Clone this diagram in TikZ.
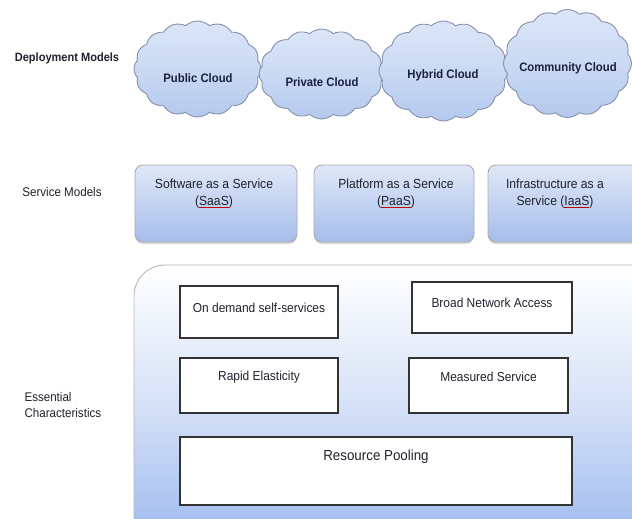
\documentclass[tikz,border=0pt]{standalone}
\usepackage{fontspec}
\setmainfont{Liberation Sans}[FakeStretch=0.92]
\usetikzlibrary{shapes.symbols,shadows}
\definecolor{cloudfill}{HTML}{B4C9EE}
\definecolor{cloudtop}{HTML}{DCE6F8}
\definecolor{cloudline}{HTML}{8592AA}
\definecolor{svtop}{HTML}{DFE8F8}
\definecolor{svbot}{HTML}{A6BDEA}
\definecolor{contbot}{HTML}{A5BEF0}
\definecolor{txt}{HTML}{20232E}
\definecolor{ctxt}{HTML}{1A2140}
\newcommand\squig[1]{\setbox0\hbox{#1}\rlap{\textcolor{red!75!black}{\rule[-2.2pt]{\wd0}{0.7pt}}}\box0}
\begin{document}
\begin{tikzpicture}[x=1pt,y=-1pt,
  lbl/.style={font=\fontsize{12.6}{16}\selectfont, text=txt},
  cloudnode/.style={cloud, cloud puffs=16, cloud puff arc=85, draw=cloudline, line width=0.9pt,
     top color=cloudtop, bottom color=cloudfill, middle color=cloudtop!55!cloudfill,
     inner sep=0pt},
  cloudtext/.style={font=\fontsize{12.3}{14}\selectfont\bfseries, text=ctxt},
  svc/.style={draw=gray!65, line width=0.9pt, rounded corners=8pt, top color=svtop, bottom color=svbot,
     inner sep=0pt, drop shadow={shadow xshift=0pt, shadow yshift=-2pt, opacity=0.3}},
  svctext/.style={font=\fontsize{13.2}{17}\selectfont, text=txt, align=center},
  charbox/.style={draw=black!80, line width=1.4pt, fill=white, inner sep=0pt},
  chartext/.style={font=\fontsize{13}{15}\selectfont, text=txt}
]
\useasboundingbox (0,0) rectangle (632,519);
\fill[white] (0,0) rectangle (632,519);

% left labels
\node[lbl, font=\fontsize{12}{14}\selectfont\bfseries] (ldep) at (67,58) {Deployment Models};
\node[lbl] (lsvc) at (62,192) {Service Models};
\node[lbl, align=left, anchor=west] (less) at (21,405) {Essential\\Characteristics};

% clouds
\node[cloudnode, minimum width=127pt, minimum height=96pt] (pub) at (197.5,69) {};
\node[cloudnode, minimum width=125pt, minimum height=90pt] (pri) at (321.5,74) {};
\node[cloudnode, minimum width=129pt, minimum height=100pt] (hyb) at (443.5,71) {};
\node[cloudnode, minimum width=128pt, minimum height=108pt] (com) at (567.5,63.5) {};
\node[cloudtext] (tpub) at (198,78) {Public Cloud};
\node[cloudtext] (tpri) at (322,82) {Private Cloud};
\node[cloudtext] (thyb) at (443,75) {Hybrid Cloud};
\node[cloudtext] (tcom) at (568,68) {Community Cloud};

% service boxes
\node[svc, minimum width=162pt, minimum height=77pt] (saas) at (216,203.5) {};
\node[svc, minimum width=160pt, minimum height=77pt] (paas) at (394,203.5) {};
\node[svc, minimum width=160pt, minimum height=77pt] (iaas) at (568,203.5) {};
\node[svctext] (tsaas) at (214,193.5) {Software as a Service\\(\squig{SaaS})};
\node[svctext] (tpaas) at (396,193.5) {Platform as a Service\\(\squig{PaaS})};
\node[svctext] (tiaas) at (555,193.5) {Infrastructure as a\\Service (\squig{IaaS})};

% essential characteristics container
\path[draw=gray!55, line width=0.9pt, top color=white, bottom color=contbot, middle color=svtop!90!contbot]
  (640,265) -- (165,265) arc[start angle=90, end angle=180, radius=31pt] -- (134,525) -- (640,525);
\coordinate (cont) at (380,390);

% inner boxes
\node[charbox, minimum width=158pt, minimum height=52pt] (ond) at (259,312) {};
\node[charbox, minimum width=160pt, minimum height=51pt] (bna) at (492,307.5) {};
\node[charbox, minimum width=158pt, minimum height=55pt] (rap) at (259,385.5) {};
\node[charbox, minimum width=159pt, minimum height=55pt] (mea) at (488.5,385.5) {};
\node[charbox, minimum width=392pt, minimum height=68pt] (rpo) at (376,471) {};
\node[chartext] (tond) at (259,308) {On demand self-services};
\node[chartext] (tbna) at (492,303) {Broad Network Access};
\node[chartext] (trap) at (259,377) {Rapid Elasticity};
\node[chartext] (tmea) at (488.5,377) {Measured Service};
\node[chartext, font=\fontsize{14.5}{16}\selectfont] (trpo) at (376,457) {Resource Pooling};
\end{tikzpicture}
\end{document}
